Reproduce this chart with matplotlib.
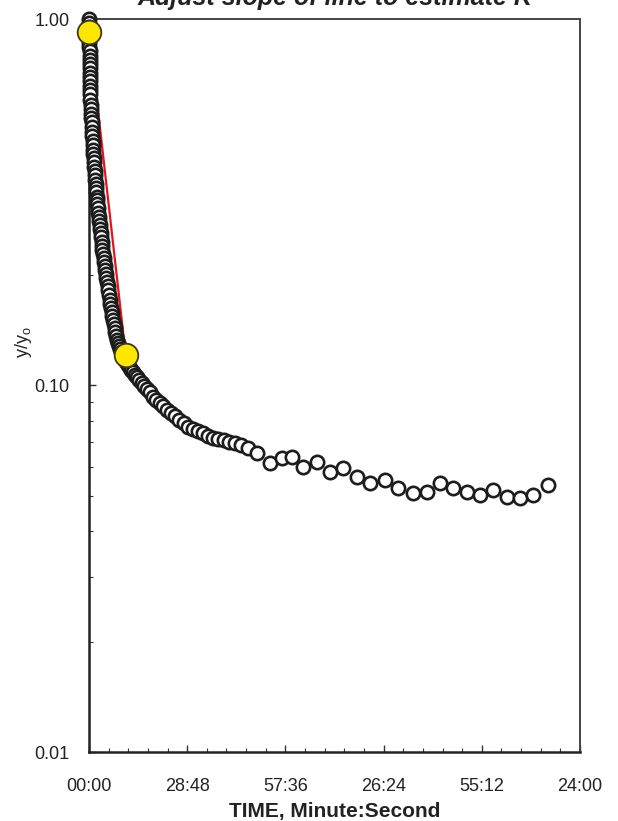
import matplotlib
matplotlib.use('Agg')
import matplotlib.pyplot as plt
from matplotlib.ticker import MultipleLocator, FuncFormatter, LogLocator, FixedLocator, FixedFormatter, NullFormatter

plt.rcParams['font.family'] = ['Liberation Sans', 'DejaVu Sans']

# --- data (time in seconds, normalized head y/y0) ---
time_s = [0, 1, 2, 3, 4.5, 6, 7.5, 9, 10.5, 12,
          13.5, 15, 16.5, 18, 19.5, 21, 22.5, 24, 26, 30,
          34, 38, 42, 46, 50, 54, 58, 62, 66, 70,
          76, 82, 88, 94, 100, 106, 112, 118, 124, 130,
          136, 141, 149, 157, 165, 173, 181, 189, 197, 205,
          213, 221, 229, 237, 247, 257, 267, 277, 287, 297,
          307, 317, 327, 337, 349, 361, 374, 387, 400, 413,
          426, 439, 452, 465, 479, 493, 511, 529, 547, 565,
          583, 603, 630, 658, 687, 717, 745, 775, 805, 845,
          885, 925, 970, 1015, 1065, 1126, 1185, 1245, 1310, 1375,
          1443, 1515, 1590, 1665, 1742, 1825, 1910, 2000, 2090, 2180,
          2275, 2370, 2470, 2570, 2680, 2790, 2960, 3190, 3400, 3580,
          3770, 4010, 4240, 4470, 4720, 4950, 5210, 5440, 5700, 5950,
          6180, 6410, 6650, 6880, 7110, 7360, 7590, 7810, 8080]
y_ratio = [1.000, 0.975, 0.950, 0.925, 0.886, 0.862, 0.839, 0.817, 0.795, 0.774,
           0.753, 0.733, 0.713, 0.694, 0.676, 0.658, 0.640, 0.623, 0.601, 0.584,
           0.568, 0.552, 0.537, 0.522, 0.507, 0.493, 0.479, 0.465, 0.452, 0.440,
           0.428, 0.417, 0.406, 0.395, 0.385, 0.3746, 0.3647, 0.3550, 0.3457, 0.3366,
           0.3277, 0.3206, 0.3125, 0.3044, 0.2965, 0.2888, 0.2813, 0.2742, 0.2671, 0.2602,
           0.2535, 0.2469, 0.2405, 0.2344, 0.2286, 0.2228, 0.2172, 0.2117, 0.2064, 0.2012,
           0.1961, 0.1912, 0.1864, 0.1817, 0.1763, 0.1710, 0.1668, 0.1628, 0.1588, 0.1549,
           0.1511, 0.1474, 0.1438, 0.1403, 0.1366, 0.1330, 0.1305, 0.1280, 0.1256, 0.1232,
           0.1208, 0.1195, 0.1175, 0.1156, 0.1135, 0.1117, 0.1100, 0.1087, 0.1071, 0.1055,
           0.1036, 0.1018, 0.0998, 0.0978, 0.0957, 0.0931, 0.0914, 0.0896, 0.0877, 0.0859,
           0.0841, 0.0824, 0.0806, 0.0789, 0.0771, 0.0761, 0.0750, 0.0740, 0.0729, 0.0721,
           0.0715, 0.0708, 0.0702, 0.0695, 0.0686, 0.0676, 0.0654, 0.0614, 0.0634, 0.0638,
           0.0600, 0.0618, 0.0581, 0.0596, 0.0563, 0.0542, 0.0552, 0.0525, 0.0509, 0.0512,
           0.0542, 0.0525, 0.0512, 0.0503, 0.0519, 0.0496, 0.0493, 0.0503, 0.0535]

# fitted line end points (yellow handles)
fit_time_s = [3, 646]
fit_y = [0.92, 0.121]

x_tick_step = 1728   # seconds between labelled ticks
x_max = 8640
y_tick_values = [0.01, 0.1, 1.0]
y_tick_labels = ['0.01', '0.10', '1.00']

title = 'Adjust slope of line to estimate K'
xlabel = 'TIME, Minute:Second'

fig = plt.figure(figsize=(6.18, 8.21), dpi=100)
W, H = 618, 821
ax = fig.add_axes([89 / W, 1 - 752 / H, (580 - 89) / W, (752 - 19) / H])
ax.set_yscale('log')
ax.set_xlim(0, x_max)
ax.set_ylim(0.01, 1.0)

ax.plot(fit_time_s, fit_y, color='#e3141c', lw=1.6, zorder=2)
ax.plot(time_s, y_ratio, 'o', ms=9.6, mfc='white', mec='#1c1c1c', mew=1.9,
        ls='none', zorder=3, clip_on=False)
ax.plot(fit_time_s, fit_y, 'o', ms=17, mfc='#ffe600', mec='#3a3a1a', mew=1.3,
        ls='none', zorder=4, clip_on=False)


def mmss(v, pos):
    s = int(round(v))
    m = (s // 60) % 60
    return f"{m:02d}:{s % 60:02d}"


ax.xaxis.set_major_locator(MultipleLocator(x_tick_step))
ax.xaxis.set_minor_locator(MultipleLocator(x_tick_step / 5))
ax.xaxis.set_major_formatter(FuncFormatter(mmss))
ax.yaxis.set_major_locator(FixedLocator(y_tick_values))
ax.yaxis.set_major_formatter(FixedFormatter(y_tick_labels))
ax.yaxis.set_minor_locator(LogLocator(base=10, subs=range(2, 10)))
ax.yaxis.set_minor_formatter(NullFormatter())

ax.tick_params(which='both', direction='in', colors='#333333', labelcolor='#222222',
               labelsize=13)
ax.tick_params(axis='x', which='both', pad=19)
ax.tick_params(axis='y', which='both', pad=14)
ax.tick_params(which='major', length=5, width=1.0)
ax.tick_params(which='minor', length=3, width=0.8)

for side in ['left', 'bottom']:
    ax.spines[side].set_linewidth(1.8)
    ax.spines[side].set_color('#222222')
for side in ['right', 'top']:
    ax.spines[side].set_linewidth(1.4)
    ax.spines[side].set_color('#444444')

ax.set_xlabel(xlabel, fontsize=15, fontweight='bold', color='#222222')
ax.xaxis.set_label_coords(0.5, -(802 - 752) / (752 - 19))
ax.set_ylabel(r'y/y$_\mathregular{o}$', fontsize=13, color='#222222')
ax.yaxis.set_label_coords(-(89 - 34) / (580 - 89), (752 - 342) / (752 - 19))

fig.text((89 + 580) / 2 / W, 1 - 5 / H, title, ha='center', va='baseline',
         fontsize=18, fontweight='bold', fontstyle='italic', color='#222222')

fig.savefig('out.png', dpi=100)
